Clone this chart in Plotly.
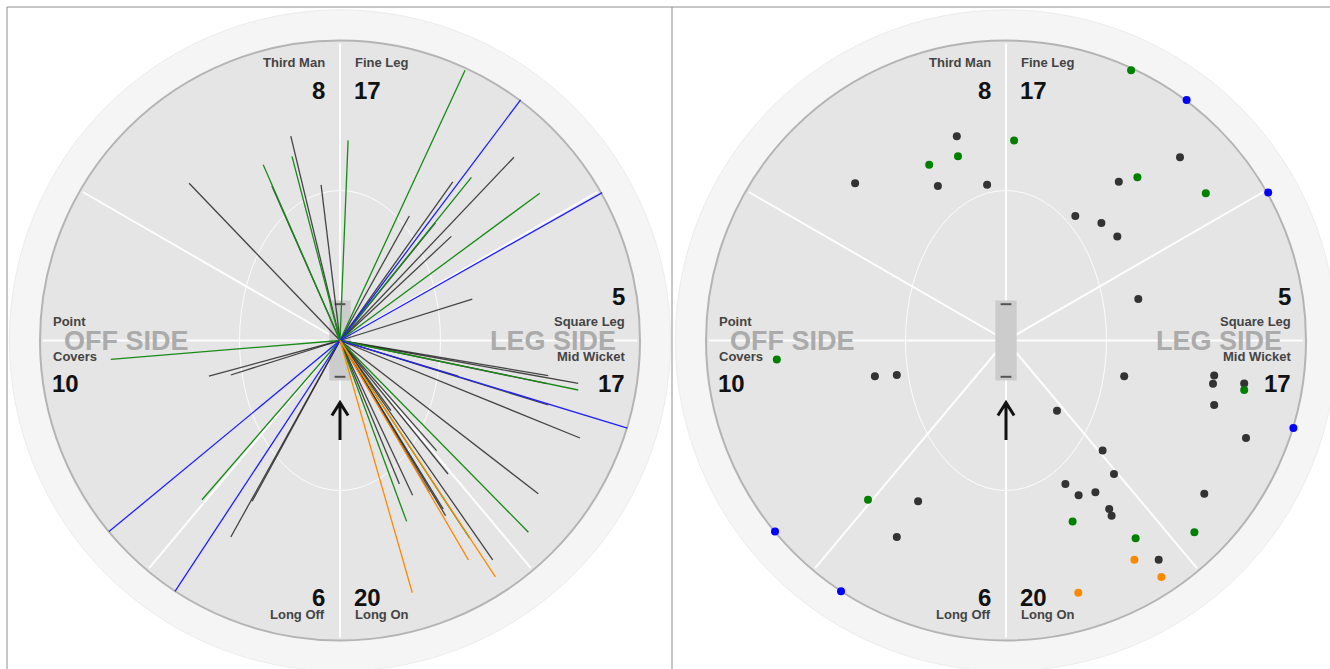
import math
import plotly.graph_objects as go

# ---------------- data ----------------
# Landing position of each scoring shot, in % of the boundary radius,
# relative to the batsman (x > 0: leg side / right of picture, y > 0: towards the top of picture)
shot_x = [-16.4, -16.0, -25.6, -50.3, -22.7, -6.3,
          41.7, 60.2, 2.7, 58.0, 43.8, 37.6, 66.6, 87.4, 23.1, 31.8, 37.1, 44.1,
          -76.4, -43.7, -36.4, -46.0, -29.3, -36.4, -77.0, -55.0,
          39.4, 69.4, 69.0, 79.4, 79.4, 69.4, 95.8, 80.0, 17.0, 32.2, 36.0, 19.8,
          24.2, 29.8, 34.4, 35.2, 22.2, 66.1, 62.8, 43.2, 42.8, 50.9, 51.8, 24.1]
shot_y = [68.1, 61.4, 58.6, 52.4, 51.5, 51.9,
          90.1, 80.2, 66.7, 61.1, 54.4, 52.9, 49.1, 49.3, 41.5, 39.2, 34.7, 13.8,
          -6.3, -11.9, -11.5, -53.1, -53.6, -65.5, -63.7, -83.6,
          -11.9, -11.7, -14.4, -14.3, -16.5, -21.5, -29.2, -32.5, -23.4, -36.7, -44.5, -47.8,
          -51.6, -50.6, -56.2, -58.4, -60.3, -51.1, -63.9, -65.9, -73.1, -73.1, -78.8, -84.1]
shot_runs = [1, 2, 2, 1, 1, 1,
             2, 4, 2, 1, 2, 1, 2, 4, 1, 1, 1, 1,
             2, 1, 1, 2, 1, 1, 4, 4,
             1, 1, 1, 1, 2, 1, 4, 1, 1, 1, 1, 1,
             1, 1, 1, 1, 2, 1, 2, 2, 3, 1, 3, 3]

# Runs per fielding region (shown on the chart)
sector_names = ["Third Man", "Fine Leg", "Square Leg", "Mid Wicket",
                "Long On", "Long Off", "Covers", "Point"]
sector_runs = [8, 17, 5, 17, 20, 6, 10, 0]

side_labels = ["OFF SIDE", "LEG SIDE"]

run_colors = {1: "#333333", 2: "#008000", 3: "#ff8a00", 4: "#0000ff"}
line_colors = {1: "rgba(40,40,40,0.85)", 2: "#178a17", 3: "#ff8a00", 4: "#2020ff"}

# ---------------- layout helpers ----------------
W, H = 1330, 669
PX = 3.0  # pixels per unit (boundary radius = 100 units)
FONT = "Liberation Sans, Arial, sans-serif"

# per-sector label placement: (name_x, name_y, anchor, num_x, num_y)
label_pos = {
    "Third Man": (-4.5, 92.6, "right", -4.5, 83.3),
    "Fine Leg": (4.2, 92.6, "left", 4.0, 83.3),
    "Square Leg": (95.8, 6.3, "right", 95.8, 14.7),
    "Mid Wicket": (95.8, -5.3, "right", 95.8, -14.3),
    "Long On": (4.2, -91.3, "left", 4.0, -85.6),
    "Long Off": (-4.5, -91.3, "right", -4.5, -85.6),
    "Covers": (-96.4, -5.3, "left", -96.6, -14.3),
    "Point": (-96.4, 6.3, "left", -96.6, 14.7),
}

fig = go.Figure()
shapes = []
annotations = []


def panel(xr, yr):
    s = []
    # outer light ring
    s.append(dict(type="circle", xref=xr, yref=yr, x0=-110.2, y0=-110.2, x1=110.2, y1=110.2,
                  fillcolor="#f5f5f5", line=dict(color="#ececec", width=1), layer="below"))
    # playing field
    s.append(dict(type="circle", xref=xr, yref=yr, x0=-100, y0=-100, x1=100, y1=100,
                  fillcolor="#e5e5e5", line=dict(color="#b4b4b4", width=2), layer="below"))
    # sector boundaries
    for ang in [90, 270, 0, 180, 30, 150, -50, -130]:
        a = math.radians(ang)
        s.append(dict(type="line", xref=xr, yref=yr, x0=0, y0=0,
                      x1=99 * math.cos(a), y1=99 * math.sin(a),
                      line=dict(color="rgba(255,255,255,0.9)", width=2), layer="below"))
    # inner (30-yard) ellipse
    s.append(dict(type="circle", xref=xr, yref=yr, x0=-33.5, y0=-50, x1=33.5, y1=50,
                  line=dict(color="rgba(255,255,255,0.85)", width=1), layer="below"))
    # pitch
    s.append(dict(type="rect", xref=xr, yref=yr, x0=-3.57, y0=-13.3, x1=3.57, y1=13.3,
                  fillcolor="#cccccc", line=dict(width=0), layer="below"))
    for yy in (12.1, -12.1):
        s.append(dict(type="line", xref=xr, yref=yr, x0=-1.8, y0=yy, x1=1.8, y1=yy,
                      line=dict(color="#555555", width=2), layer="below"))
    # direction arrow
    s.append(dict(type="path", xref=xr, yref=yr,
                  path="M 0,-33.2 L 0,-20.9 M -2.7,-25.0 L 0,-20.7 L 2.7,-25.0",
                  line=dict(color="#111111", width=3), layer="above"))
    return s


def panel_text(xr, yr):
    a = []
    for name, runs in zip(sector_names, sector_runs):
        nx, ny, anc, mx, my = label_pos[name]
        a.append(dict(xref=xr, yref=yr, x=nx, y=ny, text="<b>%s</b>" % name, showarrow=False,
                      xanchor=anc, yanchor="middle",
                      font=dict(family=FONT, size=13, color="#444444")))
        if runs:
            a.append(dict(xref=xr, yref=yr, x=mx, y=my, text="<b>%d</b>" % runs, showarrow=False,
                          xanchor=anc, yanchor="middle",
                          font=dict(family=FONT, size=24, color="#111111")))
    a.append(dict(xref=xr, yref=yr, x=-92.6, y=0, text="<b>%s</b>" % side_labels[0], showarrow=False,
                  xanchor="left", yanchor="middle",
                  font=dict(family=FONT, size=27, color="#ababab")))
    a.append(dict(xref=xr, yref=yr, x=92.6, y=0, text="<b>%s</b>" % side_labels[1], showarrow=False,
                  xanchor="right", yanchor="middle",
                  font=dict(family=FONT, size=27, color="#ababab")))
    return a


shapes += panel("x", "y") + panel("x2", "y2")
annotations += panel_text("x", "y") + panel_text("x2", "y2")

# ---------------- left: wagon wheel lines ----------------
for r in [1, 2, 4, 3]:
    xs, ys = [], []
    for x, y, rr in zip(shot_x, shot_y, shot_runs):
        if rr == r:
            xs += [0, x, None]
            ys += [0, y, None]
    fig.add_trace(go.Scatter(x=xs, y=ys, mode="lines", xaxis="x", yaxis="y",
                             line=dict(color=line_colors[r], width=1.3),
                             hoverinfo="skip", showlegend=False))

# ---------------- right: landing spots ----------------
for r in [1, 2, 4, 3]:
    xs = [x for x, rr in zip(shot_x, shot_runs) if rr == r]
    ys = [y for y, rr in zip(shot_y, shot_runs) if rr == r]
    fig.add_trace(go.Scatter(x=xs, y=ys, mode="markers", xaxis="x2", yaxis="y2",
                             marker=dict(color=run_colors[r], size=8, line=dict(width=0)),
                             showlegend=False, name="%d run(s)" % r))

# frame
fx = 7 / W
fy = 1 - 7 / H
dv = 672 / W
for x0, y0, x1, y1 in [(fx, fy, 1, fy), (fx, 0, fx, fy), (dv, 0, dv, fy)]:
    shapes.append(dict(type="line", xref="paper", yref="paper", x0=x0, y0=y0, x1=x1, y1=y1,
                       line=dict(color="#8f8f8f", width=1), layer="above"))

ax_common = dict(visible=False, showgrid=False, zeroline=False, fixedrange=True)
c1, c2, cy = 340.0, 1006.0, 340.5
fig.update_layout(
    width=W, height=H,
    margin=dict(l=0, r=0, t=0, b=0),
    paper_bgcolor="white", plot_bgcolor="white",
    xaxis=dict(domain=[0, 672 / W], range=[-c1 / PX, (672 - c1) / PX], **ax_common),
    yaxis=dict(domain=[0, 1], range=[-(H - cy) / PX, cy / PX], **ax_common),
    xaxis2=dict(domain=[672 / W, 1], range=[(672 - c2) / PX, (W - c2) / PX], **ax_common),
    yaxis2=dict(domain=[0, 1], anchor="x2", range=[-(H - cy) / PX, cy / PX], **ax_common),
    shapes=shapes,
    annotations=annotations,
    showlegend=False,
)
fig.update_traces(cliponaxis=False)

fig.write_html(
    "out.html",
    config={"displayModeBar": False},
    post_script="document.body.style.margin='0';document.body.style.overflow='hidden';",
)
